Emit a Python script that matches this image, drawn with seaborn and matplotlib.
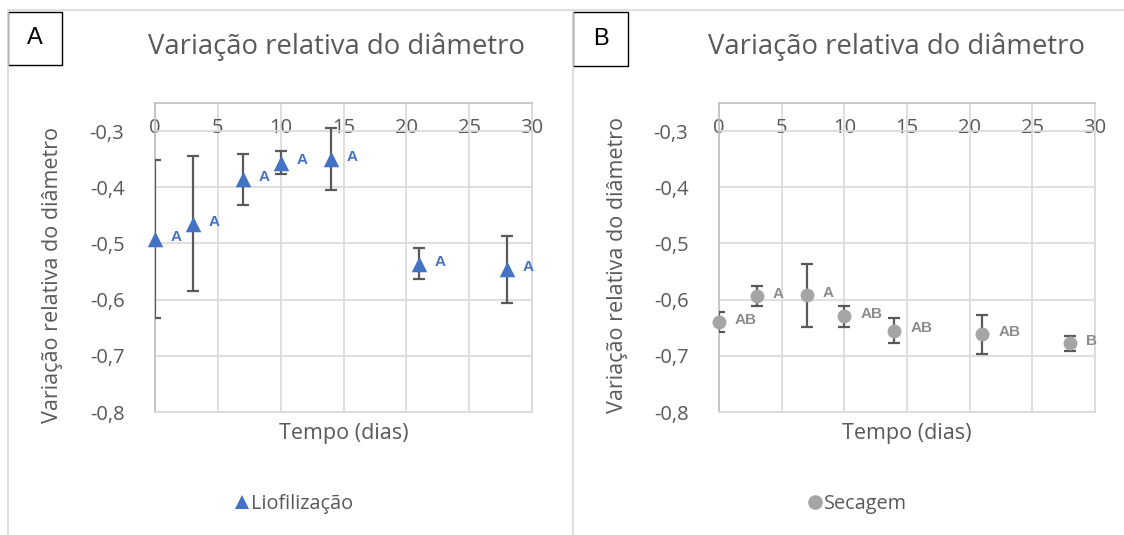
import matplotlib
matplotlib.use("Agg")
import matplotlib.pyplot as plt
import seaborn as sns
import pandas as pd
from matplotlib.ticker import FuncFormatter
from matplotlib.lines import Line2D
from matplotlib.patches import Rectangle

# ---- data ----
dias = [0, 3, 7, 10, 14, 21, 28]
lio_media = [-0.492, -0.465, -0.386, -0.356, -0.350, -0.536, -0.546]
lio_erro = [0.141, 0.120, 0.045, 0.021, 0.055, 0.028, 0.060]
lio_letras = ["A", "A", "A", "A", "A", "A", "A"]
sec_media = [-0.640, -0.593, -0.592, -0.630, -0.655, -0.662, -0.678]
sec_erro = [0.018, 0.018, 0.056, 0.019, 0.022, 0.034, 0.013]
sec_letras = ["AB", "A", "A", "AB", "AB", "AB", "B"]
y_ticks = [-0.8, -0.7, -0.6, -0.5, -0.4, -0.3]
x_ticks = [0, 5, 10, 15, 20, 25, 30]
titulo = "Variação relativa do diâmetro"
eixo_x = "Tempo (dias)"
eixo_y = "Variação relativa do diâmetro"

sns.set_theme(style="white")
plt.rcParams["font.family"] = ["Open Sans", "DejaVu Sans"]

W, H = 1124, 535
fig = plt.figure(figsize=(W / 100, H / 100), dpi=100)
fig.patch.set_facecolor("white")

TXT = "#595959"
GRID = "#d9d9d9"
AXL = "#bfbfbf"


def px_axes(left, right, top, bottom):
    return fig.add_axes([left / W, 1 - bottom / H, (right - left) / W, (bottom - top) / H])


def painel(ax, media, erro, letras, marker, cor, cor_letra, s, ylab_xy, title_x):
    df = pd.DataFrame({"dias": dias, "media": media, "erro": erro})
    ax.errorbar(df["dias"], df["media"], yerr=df["erro"], fmt="none",
                ecolor="#595959", elinewidth=1.6, capsize=4.5, capthick=1.6, zorder=2.7)
    sns.scatterplot(data=df, x="dias", y="media", marker=marker, s=s, color=cor,
                    linewidth=0, ax=ax, zorder=3, clip_on=False, legend=False)
    for xi, yi, lt in zip(dias, media, letras):
        ax.annotate(lt, (xi, yi), xytext=(11.5, 1.5), textcoords="offset points",
                    ha="left", va="center", fontsize=11, fontweight="bold",
                    color=cor_letra, family=["Liberation Sans", "DejaVu Sans"],
                    annotation_clip=False)
    ax.set_xlim(0, 30)
    ax.set_ylim(-0.8, -0.25)
    ax.set_xticks(x_ticks)
    ax.set_yticks(y_ticks)
    ax.yaxis.set_major_formatter(FuncFormatter(lambda v, p: f"{v:.1f}".replace(".", ",")))
    ax.grid(True, color=GRID, linewidth=1.2)
    ax.set_axisbelow(True)
    for side, sp in ax.spines.items():
        sp.set_visible(True)
        sp.set_linewidth(1.2)
        sp.set_color(AXL if side in ("left", "top") else GRID)
    ax.tick_params(axis="x", which="both", top=False, bottom=False,
                   labeltop=True, labelbottom=False, pad=-31, labelsize=14.5, labelcolor=TXT)
    ax.tick_params(axis="y", left=False, pad=16, labelsize=14.5, labelcolor=TXT)
    ax.set_xlabel(eixo_x, fontsize=15.5, color=TXT, labelpad=8)
    ax.xaxis.set_label_position("bottom")
    ax.set_ylabel(eixo_y, fontsize=15.5, color=TXT)
    ax.yaxis.set_label_coords(*ylab_xy)
    fig.text(title_x / W, 1 - 47 / H, titulo, ha="center", va="center",
             fontsize=19.8, color=TXT)


axA = px_axes(155, 532, 103, 412)
axB = px_axes(719, 1095, 103, 412)

painel(axA, lio_media, lio_erro, lio_letras, "^", "#4472C4", "#4472C4", 125,
       (-0.245, 0.443), 336)
painel(axB, sec_media, sec_erro, sec_letras, "o", "#A5A5A5", "#8C8C8C", 100,
       (-0.243, 0.476), 897)

# chart-area borders
fig.add_artist(Line2D([8 / W, 1], [1 - 10 / H, 1 - 10 / H], color=GRID, lw=1.2))
fig.add_artist(Line2D([8 / W, 8 / W], [0, 1 - 10 / H], color=GRID, lw=1.2))
fig.add_artist(Line2D([573 / W, 573 / W], [0, 1 - 10 / H], color=GRID, lw=1.2))

# panel letter boxes
for (x0, x1, y0, y1, lt) in [(8, 62, 12, 65, "A"), (573, 628, 12, 66, "B")]:
    fig.add_artist(Rectangle((x0 / W, 1 - y1 / H), (x1 - x0) / W, (y1 - y0) / H,
                             transform=fig.transFigure, fill=True, facecolor="white",
                             edgecolor="black", lw=1.0))
    fig.text((x0 + x1) / 2 / W, 1 - (y0 + y1) / 2 / H, lt, ha="center", va="center",
             fontsize=17, color="black", family=["Liberation Sans", "DejaVu Sans"])

# legends
hA = Line2D([], [], marker="^", linestyle="none", markersize=10, color="#4472C4", markeredgewidth=0)
hB = Line2D([], [], marker="o", linestyle="none", markersize=10.5, color="#A5A5A5", markeredgewidth=0)
for h, lab, cx in [(hA, "Liofilização", 295), (hB, "Secagem", 858)]:
    leg = fig.legend([h], [lab], loc="center", bbox_to_anchor=(cx / W, 1 - 504 / H),
                     frameon=False, fontsize=14.3, handlelength=0.6, handletextpad=0.15,
                     borderpad=0, borderaxespad=0)
    for t in leg.get_texts():
        t.set_color(TXT)

fig.savefig("out.png", dpi=100, facecolor="white")
